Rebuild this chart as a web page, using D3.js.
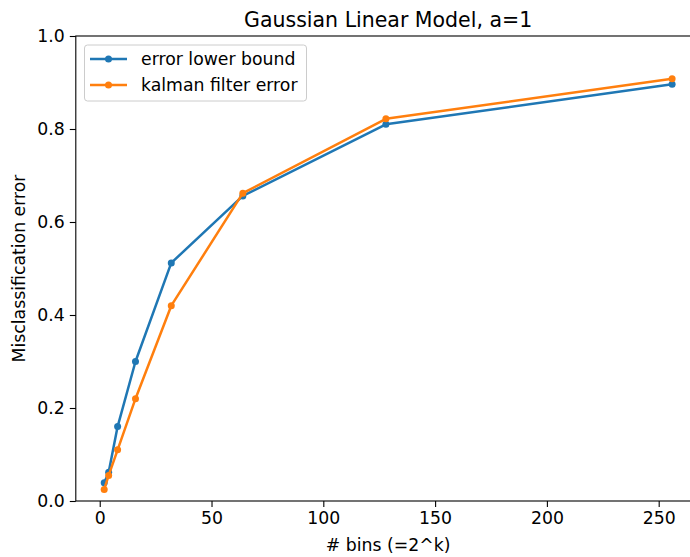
<!DOCTYPE html>
<html><head><meta charset="utf-8">
<script src="https://cdn.jsdelivr.net/npm/d3@7"></script>
<style>body{margin:0;background:#fff}svg{font-family:"DejaVu Sans",sans-serif}</style>
</head><body><svg id="c" width="690" height="557"></svg>
<script>
const bins = [2, 4, 8, 16, 32, 64, 128, 256];
const lowerBound = [0.039, 0.062, 0.16, 0.30, 0.512, 0.656, 0.810, 0.896];
const kalman = [0.025, 0.055, 0.11, 0.22, 0.42, 0.662, 0.822, 0.908];
const xTicks = [0, 50, 100, 150, 200, 250];
const yTicks = [0, 0.2, 0.4, 0.6, 0.8, 1.0];
const seriesNames = ["error lower bound", "kalman filter error"];
const colors = ["#1f77b4", "#ff7f0e"];

const svg = d3.select("#c");
const L = 75.8, R = 700.5, T = 36, B = 501;
const x = d3.scaleLinear().domain([-10.7, 268.7]).range([L, R]);
const y = d3.scaleLinear().domain([0, 1]).range([B, T]);
const FS = 17.3;

const gx = svg.append("g").attr("transform", `translate(0,${B})`)
  .call(d3.axisBottom(x).tickValues(xTicks).tickFormat(d3.format("d")).tickSizeOuter(0).tickSize(6).tickPadding(5));
const gy = svg.append("g").attr("transform", `translate(${L},0)`)
  .call(d3.axisLeft(y).tickValues(yTicks).tickFormat(d3.format(".1f")).tickSizeOuter(0).tickSize(6).tickPadding(5));
[gx, gy].forEach(g => {
  g.selectAll("text").attr("font-size", FS).attr("fill", "#000").attr("font-family", "DejaVu Sans");
  g.selectAll("line").attr("stroke", "#000").attr("stroke-width", 1.1);
  g.select(".domain").remove();
});
// spines
svg.append("rect").attr("x", L).attr("y", T).attr("width", R - L).attr("height", B - T)
  .attr("fill", "none").attr("stroke", "#000").attr("stroke-width", 1.1);

const series = [lowerBound, kalman];
const line = d3.line().x((d, i) => x(bins[i])).y(d => y(d));
series.forEach((s, k) => {
  svg.append("path").datum(s).attr("d", line).attr("fill", "none")
    .attr("stroke", colors[k]).attr("stroke-width", 2.5).attr("stroke-linejoin", "round");
  svg.selectAll(null).data(s).enter().append("circle")
    .attr("cx", (d, i) => x(bins[i])).attr("cy", d => y(d)).attr("r", 3.5).attr("fill", colors[k]);
});

svg.append("text").attr("x", (L + R) / 2).attr("y", 27).attr("text-anchor", "middle")
  .attr("font-size", 20.5).text("Gaussian Linear Model, a=1");
svg.append("text").attr("x", (L + R) / 2).attr("y", 551).attr("text-anchor", "middle")
  .attr("font-size", FS).text("# bins (=2^k)");
svg.append("text").attr("transform", `translate(25,${(T + B) / 2}) rotate(-90)`).attr("text-anchor", "middle")
  .attr("font-size", FS).text("Misclassification error");

// legend
const lg = svg.append("g");
lg.append("rect").attr("x", 84.5).attr("y", 45).attr("width", 222).attr("height", 56).attr("rx", 3)
  .attr("fill", "#fff").attr("fill-opacity", 0.8).attr("stroke", "#ccc");
seriesNames.forEach((n, k) => {
  const yy = 59 + k * 26;
  lg.append("line").attr("x1", 90).attr("x2", 127).attr("y1", yy).attr("y2", yy)
    .attr("stroke", colors[k]).attr("stroke-width", 2.5);
  lg.append("circle").attr("cx", 108.5).attr("cy", yy).attr("r", 3.5).attr("fill", colors[k]);
  lg.append("text").attr("x", 141).attr("y", yy + 6).attr("font-size", FS).text(n);
});
</script></body></html>
